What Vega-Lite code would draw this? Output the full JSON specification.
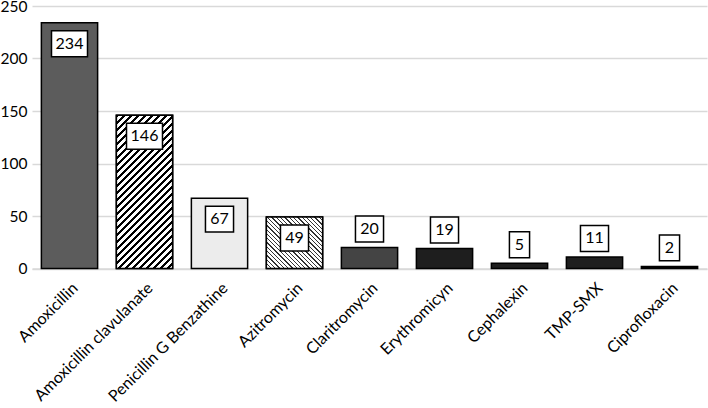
{
  "$schema": "https://vega.github.io/schema/vega-lite/v6.json",
  "autosize": {"type": "none"},
  "padding": {"left": 32, "top": 6, "right": 1, "bottom": 139.5},
  "width": 675,
  "height": 262.5,
  "background": "white",
  "config": {"view": {"stroke": null}, "font": "Lato"},
  "data": {"values": [
    {"drug": "Amoxicillin", "count": 234},
    {"drug": "Amoxicillin clavulanate", "count": 146},
    {"drug": "Penicillin G Benzathine", "count": 67},
    {"drug": "Azitromycin", "count": 49},
    {"drug": "Claritromycin", "count": 20},
    {"drug": "Erythromicyn", "count": 19},
    {"drug": "Cephalexin", "count": 5},
    {"drug": "TMP-SMX", "count": 11},
    {"drug": "Ciprofloxacin", "count": 2}
  ]},
  "encoding": {
    "x": {
      "field": "drug", "type": "nominal", "sort": null,
      "scale": {"paddingInner": 0.25, "paddingOuter": 0.125},
      "axis": {"title": null, "labelAngle": -45, "labelFontSize": 16, "labelColor": "black", "labelFont": "Lato",
               "ticks": false, "domain": true, "domainColor": "#d9d9d9", "domainWidth": 1.5, "labelPadding": 11, "grid": false}
    },
    "y": {"field": "count", "type": "quantitative", "scale": {"domain": [0, 250], "nice": false},
          "axis": {"title": null, "values": [0, 50, 100, 150, 200, 250], "grid": true, "gridColor": "#d9d9d9", "gridWidth": 1.5,
                   "domain": false, "ticks": false, "labelFontSize": 15.5, "labelColor": "black", "labelFont": "Lato", "labelPadding": 5}}
  },
  "layer": [
    {
      "mark": {"type": "bar", "stroke": "black", "strokeWidth": 1.5},
      "encoding": {
        "color": {"field": "drug", "type": "nominal", "legend": null,
                  "scale": {"domain": ["Amoxicillin", "Amoxicillin clavulanate", "Penicillin G Benzathine", "Azitromycin", "Claritromycin", "Erythromicyn", "Cephalexin", "TMP-SMX", "Ciprofloxacin"],
                            "range": ["#5c5c5c", "#858585", "#ececec", "#b3b3b3", "#444444", "#1e1e1e", "#1e1e1e", "#1e1e1e", "#000000"]}}
      }
    },
    {
      "transform": [{"filter": "datum.drug === 'Amoxicillin clavulanate'"}],
      "mark": {"type": "bar", "stroke": "black", "strokeWidth": 1.5,
        "fill": {"gradient": "linear", "x1": 0, "y1": 0, "x2": 0.4421, "y2": 1.2048, "stops": [
          {"offset": 0, "color": "#000"}, {"offset": 0.015, "color": "#000"}, {"offset": 0.015, "color": "#fff"}, {"offset": 0.0333, "color": "#fff"},
          {"offset": 0.0333, "color": "#000"}, {"offset": 0.0483, "color": "#000"}, {"offset": 0.0483, "color": "#fff"}, {"offset": 0.0667, "color": "#fff"},
          {"offset": 0.0667, "color": "#000"}, {"offset": 0.0817, "color": "#000"}, {"offset": 0.0817, "color": "#fff"}, {"offset": 0.1, "color": "#fff"},
          {"offset": 0.1, "color": "#000"}, {"offset": 0.115, "color": "#000"}, {"offset": 0.115, "color": "#fff"}, {"offset": 0.1333, "color": "#fff"},
          {"offset": 0.1333, "color": "#000"}, {"offset": 0.1483, "color": "#000"}, {"offset": 0.1483, "color": "#fff"}, {"offset": 0.1667, "color": "#fff"},
          {"offset": 0.1667, "color": "#000"}, {"offset": 0.1817, "color": "#000"}, {"offset": 0.1817, "color": "#fff"}, {"offset": 0.2, "color": "#fff"},
          {"offset": 0.2, "color": "#000"}, {"offset": 0.215, "color": "#000"}, {"offset": 0.215, "color": "#fff"}, {"offset": 0.2333, "color": "#fff"},
          {"offset": 0.2333, "color": "#000"}, {"offset": 0.2483, "color": "#000"}, {"offset": 0.2483, "color": "#fff"}, {"offset": 0.2667, "color": "#fff"},
          {"offset": 0.2667, "color": "#000"}, {"offset": 0.2817, "color": "#000"}, {"offset": 0.2817, "color": "#fff"}, {"offset": 0.3, "color": "#fff"},
          {"offset": 0.3, "color": "#000"}, {"offset": 0.315, "color": "#000"}, {"offset": 0.315, "color": "#fff"}, {"offset": 0.3333, "color": "#fff"},
          {"offset": 0.3333, "color": "#000"}, {"offset": 0.3483, "color": "#000"}, {"offset": 0.3483, "color": "#fff"}, {"offset": 0.3667, "color": "#fff"},
          {"offset": 0.3667, "color": "#000"}, {"offset": 0.3817, "color": "#000"}, {"offset": 0.3817, "color": "#fff"}, {"offset": 0.4, "color": "#fff"},
          {"offset": 0.4, "color": "#000"}, {"offset": 0.415, "color": "#000"}, {"offset": 0.415, "color": "#fff"}, {"offset": 0.4333, "color": "#fff"},
          {"offset": 0.4333, "color": "#000"}, {"offset": 0.4483, "color": "#000"}, {"offset": 0.4483, "color": "#fff"}, {"offset": 0.4667, "color": "#fff"},
          {"offset": 0.4667, "color": "#000"}, {"offset": 0.4817, "color": "#000"}, {"offset": 0.4817, "color": "#fff"}, {"offset": 0.5, "color": "#fff"},
          {"offset": 0.5, "color": "#000"}, {"offset": 0.515, "color": "#000"}, {"offset": 0.515, "color": "#fff"}, {"offset": 0.5333, "color": "#fff"},
          {"offset": 0.5333, "color": "#000"}, {"offset": 0.5483, "color": "#000"}, {"offset": 0.5483, "color": "#fff"}, {"offset": 0.5667, "color": "#fff"},
          {"offset": 0.5667, "color": "#000"}, {"offset": 0.5817, "color": "#000"}, {"offset": 0.5817, "color": "#fff"}, {"offset": 0.6, "color": "#fff"},
          {"offset": 0.6, "color": "#000"}, {"offset": 0.615, "color": "#000"}, {"offset": 0.615, "color": "#fff"}, {"offset": 0.6333, "color": "#fff"},
          {"offset": 0.6333, "color": "#000"}, {"offset": 0.6483, "color": "#000"}, {"offset": 0.6483, "color": "#fff"}, {"offset": 0.6667, "color": "#fff"},
          {"offset": 0.6667, "color": "#000"}, {"offset": 0.6817, "color": "#000"}, {"offset": 0.6817, "color": "#fff"}, {"offset": 0.7, "color": "#fff"},
          {"offset": 0.7, "color": "#000"}, {"offset": 0.715, "color": "#000"}, {"offset": 0.715, "color": "#fff"}, {"offset": 0.7333, "color": "#fff"},
          {"offset": 0.7333, "color": "#000"}, {"offset": 0.7483, "color": "#000"}, {"offset": 0.7483, "color": "#fff"}, {"offset": 0.7667, "color": "#fff"},
          {"offset": 0.7667, "color": "#000"}, {"offset": 0.7817, "color": "#000"}, {"offset": 0.7817, "color": "#fff"}, {"offset": 0.8, "color": "#fff"},
          {"offset": 0.8, "color": "#000"}, {"offset": 0.815, "color": "#000"}, {"offset": 0.815, "color": "#fff"}, {"offset": 0.8333, "color": "#fff"},
          {"offset": 0.8333, "color": "#000"}, {"offset": 0.8483, "color": "#000"}, {"offset": 0.8483, "color": "#fff"}, {"offset": 0.8667, "color": "#fff"},
          {"offset": 0.8667, "color": "#000"}, {"offset": 0.8817, "color": "#000"}, {"offset": 0.8817, "color": "#fff"}, {"offset": 0.9, "color": "#fff"},
          {"offset": 0.9, "color": "#000"}, {"offset": 0.915, "color": "#000"}, {"offset": 0.915, "color": "#fff"}, {"offset": 0.9333, "color": "#fff"},
          {"offset": 0.9333, "color": "#000"}, {"offset": 0.9483, "color": "#000"}, {"offset": 0.9483, "color": "#fff"}, {"offset": 0.9667, "color": "#fff"},
          {"offset": 0.9667, "color": "#000"}, {"offset": 0.9817, "color": "#000"}, {"offset": 0.9817, "color": "#fff"}, {"offset": 1, "color": "#fff"}
        ]}},
      "encoding": {}
    },
    {
      "transform": [{"filter": "datum.drug === 'Azitromycin'"}],
      "mark": {"type": "bar", "stroke": "black", "strokeWidth": 1.5,
        "fill": {"gradient": "linear", "x1": 0, "y1": 1, "x2": 1.0425, "y2": 0.0464, "stops": [
          {"offset": 0, "color": "#333"}, {"offset": 0.012, "color": "#333"}, {"offset": 0.012, "color": "#fff"}, {"offset": 0.04, "color": "#fff"},
          {"offset": 0.04, "color": "#333"}, {"offset": 0.052, "color": "#333"}, {"offset": 0.052, "color": "#fff"}, {"offset": 0.08, "color": "#fff"},
          {"offset": 0.08, "color": "#333"}, {"offset": 0.092, "color": "#333"}, {"offset": 0.092, "color": "#fff"}, {"offset": 0.12, "color": "#fff"},
          {"offset": 0.12, "color": "#333"}, {"offset": 0.132, "color": "#333"}, {"offset": 0.132, "color": "#fff"}, {"offset": 0.16, "color": "#fff"},
          {"offset": 0.16, "color": "#333"}, {"offset": 0.172, "color": "#333"}, {"offset": 0.172, "color": "#fff"}, {"offset": 0.2, "color": "#fff"},
          {"offset": 0.2, "color": "#333"}, {"offset": 0.212, "color": "#333"}, {"offset": 0.212, "color": "#fff"}, {"offset": 0.24, "color": "#fff"},
          {"offset": 0.24, "color": "#333"}, {"offset": 0.252, "color": "#333"}, {"offset": 0.252, "color": "#fff"}, {"offset": 0.28, "color": "#fff"},
          {"offset": 0.28, "color": "#333"}, {"offset": 0.292, "color": "#333"}, {"offset": 0.292, "color": "#fff"}, {"offset": 0.32, "color": "#fff"},
          {"offset": 0.32, "color": "#333"}, {"offset": 0.332, "color": "#333"}, {"offset": 0.332, "color": "#fff"}, {"offset": 0.36, "color": "#fff"},
          {"offset": 0.36, "color": "#333"}, {"offset": 0.372, "color": "#333"}, {"offset": 0.372, "color": "#fff"}, {"offset": 0.4, "color": "#fff"},
          {"offset": 0.4, "color": "#333"}, {"offset": 0.412, "color": "#333"}, {"offset": 0.412, "color": "#fff"}, {"offset": 0.44, "color": "#fff"},
          {"offset": 0.44, "color": "#333"}, {"offset": 0.452, "color": "#333"}, {"offset": 0.452, "color": "#fff"}, {"offset": 0.48, "color": "#fff"},
          {"offset": 0.48, "color": "#333"}, {"offset": 0.492, "color": "#333"}, {"offset": 0.492, "color": "#fff"}, {"offset": 0.52, "color": "#fff"},
          {"offset": 0.52, "color": "#333"}, {"offset": 0.532, "color": "#333"}, {"offset": 0.532, "color": "#fff"}, {"offset": 0.56, "color": "#fff"},
          {"offset": 0.56, "color": "#333"}, {"offset": 0.572, "color": "#333"}, {"offset": 0.572, "color": "#fff"}, {"offset": 0.6, "color": "#fff"},
          {"offset": 0.6, "color": "#333"}, {"offset": 0.612, "color": "#333"}, {"offset": 0.612, "color": "#fff"}, {"offset": 0.64, "color": "#fff"},
          {"offset": 0.64, "color": "#333"}, {"offset": 0.652, "color": "#333"}, {"offset": 0.652, "color": "#fff"}, {"offset": 0.68, "color": "#fff"},
          {"offset": 0.68, "color": "#333"}, {"offset": 0.692, "color": "#333"}, {"offset": 0.692, "color": "#fff"}, {"offset": 0.72, "color": "#fff"},
          {"offset": 0.72, "color": "#333"}, {"offset": 0.732, "color": "#333"}, {"offset": 0.732, "color": "#fff"}, {"offset": 0.76, "color": "#fff"},
          {"offset": 0.76, "color": "#333"}, {"offset": 0.772, "color": "#333"}, {"offset": 0.772, "color": "#fff"}, {"offset": 0.8, "color": "#fff"},
          {"offset": 0.8, "color": "#333"}, {"offset": 0.812, "color": "#333"}, {"offset": 0.812, "color": "#fff"}, {"offset": 0.84, "color": "#fff"},
          {"offset": 0.84, "color": "#333"}, {"offset": 0.852, "color": "#333"}, {"offset": 0.852, "color": "#fff"}, {"offset": 0.88, "color": "#fff"},
          {"offset": 0.88, "color": "#333"}, {"offset": 0.892, "color": "#333"}, {"offset": 0.892, "color": "#fff"}, {"offset": 0.92, "color": "#fff"},
          {"offset": 0.92, "color": "#333"}, {"offset": 0.932, "color": "#333"}, {"offset": 0.932, "color": "#fff"}, {"offset": 0.96, "color": "#fff"},
          {"offset": 0.96, "color": "#333"}, {"offset": 0.972, "color": "#333"}, {"offset": 0.972, "color": "#fff"}, {"offset": 1, "color": "#fff"}
        ]}},
      "encoding": {}
    },
    {
      "transform": [
        {"calculate": "toString(length(toString(datum.count)))", "as": "digits"},
        {"filter": "datum.count >= 30"}
      ],
      "layer": [
        {
          "mark": {"type": "point", "filled": true, "fill": "white", "stroke": "black", "strokeWidth": 1.5, "opacity": 1, "size": 1296, "yOffset": 21},
          "encoding": {"shape": {"field": "digits", "type": "nominal", "legend": null,
            "scale": {"domain": ["1", "2", "3"], "range": ["M-0.56,-0.72L0.56,-0.72L0.56,0.72L-0.56,0.72Z", "M-0.78,-0.72L0.78,-0.72L0.78,0.72L-0.78,0.72Z", "M-1,-0.72L1,-0.72L1,0.72L-1,0.72Z"]}}}
        },
        {
          "mark": {"type": "text", "fontSize": 16, "font": "Lato", "color": "black", "baseline": "middle", "align": "center", "yOffset": 21},
          "encoding": {"text": {"field": "count", "type": "quantitative"}}
        }
      ]
    },
    {
      "transform": [
        {"calculate": "toString(length(toString(datum.count)))", "as": "digits"},
        {"filter": "datum.count < 30"}
      ],
      "layer": [
        {
          "mark": {"type": "point", "filled": true, "fill": "white", "stroke": "black", "strokeWidth": 1.5, "opacity": 1, "size": 1296, "yOffset": -18.5},
          "encoding": {"shape": {"field": "digits", "type": "nominal", "legend": null,
            "scale": {"domain": ["1", "2", "3"], "range": ["M-0.56,-0.72L0.56,-0.72L0.56,0.72L-0.56,0.72Z", "M-0.78,-0.72L0.78,-0.72L0.78,0.72L-0.78,0.72Z", "M-1,-0.72L1,-0.72L1,0.72L-1,0.72Z"]}}}
        },
        {
          "mark": {"type": "text", "fontSize": 16, "font": "Lato", "color": "black", "baseline": "middle", "align": "center", "yOffset": -18.5},
          "encoding": {"text": {"field": "count", "type": "quantitative"}}
        }
      ]
    }
  ]
}
